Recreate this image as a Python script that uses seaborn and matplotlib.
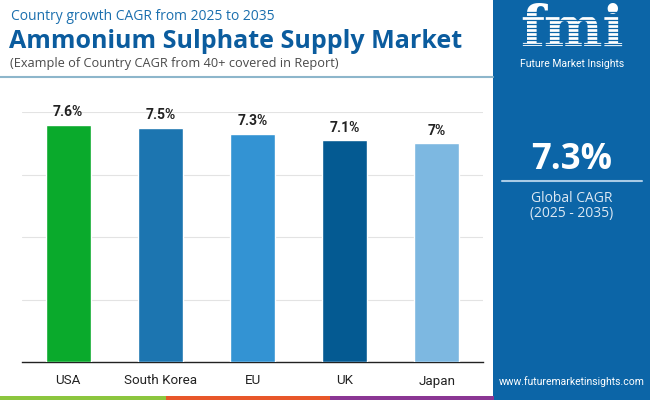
import matplotlib
matplotlib.use('Agg')

import matplotlib.pyplot as plt
import seaborn as sns
import pandas as pd
from matplotlib.patches import Rectangle

# data
countries = ['USA', 'South Korea', 'EU', 'UK', 'Japan']
cagr = [7.6, 7.5, 7.3, 7.1, 7.0]
value_labels = ['7.6%', '7.5%', '7.3%', '7.1%', '7%']
bar_colors = ['#0AAA2C', '#1C75B0', '#3393D3', '#045A92', '#7DB8E1']
global_cagr = '7.3%'

df = pd.DataFrame({'country': countries, 'cagr': cagr})

sns.set_style('white')
plt.rcParams['font.family'] = ['Roboto', 'DejaVu Sans']

W, H = 650, 400
fig = plt.figure(figsize=(6.5, 4), dpi=100)


def fx(x):
    return x / W


def fy(y):
    return 1 - y / H


# right panel + bottom stripe
panel_blue = '#0C65A7'
fig.patches.append(Rectangle((fx(493), 0), 1 - fx(493), 1, transform=fig.transFigure,
                             facecolor=panel_blue, edgecolor='none', zorder=0))
for x0, x1, c in [(0, 166, '#8CC63E'), (166, 330, '#E8572A'), (330, 494, '#8B3694')]:
    fig.patches.append(Rectangle((fx(x0), 0), fx(x1 - x0), 4 / H, transform=fig.transFigure,
                                 facecolor=c, edgecolor='none', zorder=1))
# line under header
fig.lines.append(plt.Line2D([0, fx(493)], [fy(77), fy(77)], transform=fig.transFigure,
                            color='#8DB6CB', lw=1.5))

# header texts
fig.text(fx(11), fy(17), 'Country growth CAGR from 2025 to 2035', fontsize=10,
         color='#1B6FAE', va='center', ha='left', family=['Open Sans', 'DejaVu Sans'])
fig.text(fx(9), fy(41), 'Ammonium Sulphate Supply Market', fontsize=18, fontweight='bold',
         color='#0B5C9E', va='center', ha='left', family=['Open Sans', 'DejaVu Sans'])
fig.text(fx(10), fy(63), '(Example of Country CAGR from 40+ covered in Report)', fontsize=9.2,
         color='#4A4A4A', va='center', ha='left', family=['Open Sans', 'DejaVu Sans'])

# chart
ax = fig.add_axes([fx(22), 1 - 362 / H, 461 / W, 250 / H])
sns.barplot(data=df, x='country', y='cagr', hue='country', palette=bar_colors,
            width=0.49, legend=False, ax=ax, saturation=1, zorder=3)
ax.set_ylim(0, 8)
ax.set_xlim(-0.5, 4.5)
ax.set_yticks([2, 4, 6, 8])
ax.yaxis.grid(True, color='#E3E3E3', lw=0.8, zorder=0)
ax.tick_params(axis='y', left=False, labelleft=False)
ax.tick_params(axis='x', length=0, pad=9, labelsize=9.6, labelcolor='#222222')
ax.set_xlabel('')
ax.set_ylabel('')
for s in ['top', 'right', 'left']:
    ax.spines[s].set_visible(False)
ax.spines['bottom'].set_color('#222222')
ax.spines['bottom'].set_linewidth(1)
ax.set_facecolor('none')

for i, (v, lab) in enumerate(zip(cagr, value_labels)):
    ax.annotate(lab, (i, v), xytext=(0, 4), textcoords='offset points',
                ha='center', va='bottom', fontsize=10, fontweight='bold', color='#222222')

# logo
fig.text(fx(572), fy(30), 'fmi', fontsize=40, fontweight='bold', color='white',
         ha='center', va='center', family=['DejaVu Serif'], zorder=3)
for yy in range(12, 52, 4):
    fig.lines.append(plt.Line2D([fx(515), fx(630)], [fy(yy), fy(yy)], transform=fig.transFigure,
                                color=panel_blue, lw=0.9, zorder=6))
fig.text(fx(572), fy(64), 'Future Market Insights', fontsize=7.5, color='white',
         ha='center', va='center')

# global cagr
fig.text(fx(572), fy(160), global_cagr, fontsize=25, fontweight='bold', color='white',
         ha='center', va='center', family=['Open Sans', 'DejaVu Sans'])
fig.lines.append(plt.Line2D([fx(502), fx(642)], [fy(181), fy(181)], transform=fig.transFigure,
                            color='#A9CBE6', lw=1.5))
fig.text(fx(572), fy(198), 'Global CAGR', fontsize=10, color='#DCE8F3',
         ha='center', va='center', family=['Open Sans', 'DejaVu Sans'])
fig.text(fx(572), fy(214), '(2025 - 2035)', fontsize=10, color='#DCE8F3',
         ha='center', va='center', family=['Open Sans', 'DejaVu Sans'])
fig.text(fx(572), fy(382), 'www.futuremarketinsights.com', fontsize=7.5, color='white',
         ha='center', va='center')

fig.savefig('out.png', dpi=100)
